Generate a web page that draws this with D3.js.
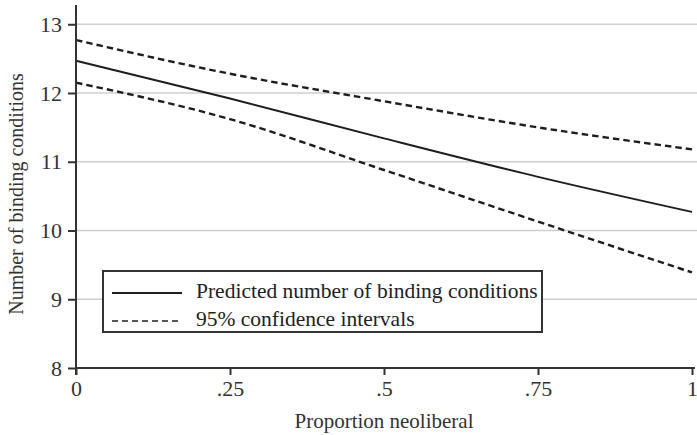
<!DOCTYPE html>
<html>
<head>
<meta charset="utf-8">
<script src="https://cdn.jsdelivr.net/npm/d3@7"></script>
<style>
  body { margin: 0; background: #fff; }
  svg { display: block; font-family: "Liberation Serif", "Times New Roman", serif; }
  .grid line { stroke: #cfcfcf; stroke-width: 1.6; }
  .axis path, .axis line { stroke: #333; stroke-width: 2; }
  .axis text { fill: #333; font-size: 22px; font-family: "Liberation Serif", serif; }
  .title { fill: #333; font-size: 20px; }
  .legend-text { fill: #222; font-size: 21.5px; }
</style>
</head>
<body>
<svg id="chart"></svg>
<script>
const WIDTH = 697;
const HEIGHT = 435;
const MARGIN = { top: 5, right: 5, bottom: 67, left: 76 };

// values, at each x position
const xValues = [0, 0.25, 0.5, 0.75, 1];
const predicted = [12.47, 11.92, 11.34, 10.78, 10.27];
const upperCI = [12.77, 12.28, 11.88, 11.5, 11.18];
const lowerCI = [12.15, 11.62, 10.88, 10.13, 9.39];

const xTicks = [0, 0.25, 0.5, 0.75, 1];
const xTickLabels = ["0", ".25", ".5", ".75", "1"];
const yTicks = [8, 9, 10, 11, 12, 13];
const legendLabels = ["Predicted number of binding conditions", "95% confidence intervals"];

const svg = d3.select("#chart").attr("width", WIDTH).attr("height", HEIGHT);

const x = d3.scaleLinear().domain([0, 1]).range([MARGIN.left, 692]);
const y = d3.scaleLinear().domain([8, 13.28]).range([368, MARGIN.top]);

// gridlines (not at the bottom tick)
svg.append("g").attr("class", "grid")
  .selectAll("line")
  .data(yTicks.filter(t => t > 8))
  .join("line")
  .attr("x1", MARGIN.left).attr("x2", WIDTH)
  .attr("y1", d => y(d)).attr("y2", d => y(d));

function series(vals) {
  return xValues.map((v, i) => ({ x: v, y: vals[i] }));
}

const line = d3.line()
  .x(d => x(d.x))
  .y(d => y(d.y))
  .curve(d3.curveMonotoneX);

const lines = svg.append("g").attr("fill", "none").attr("stroke", "#1e1e1e");
lines.append("path").attr("d", line(series(predicted))).attr("stroke-width", 2);
lines.append("path").attr("d", line(series(upperCI)))
  .attr("stroke-width", 2.4).attr("stroke-dasharray", "6.5 4");
lines.append("path").attr("d", line(series(lowerCI)))
  .attr("stroke-width", 2.4).attr("stroke-dasharray", "6.5 4");

// axes
const xAxis = d3.axisBottom(x)
  .tickValues(xTicks)
  .tickFormat((d, i) => xTickLabels[i])
  .tickSizeOuter(0)
  .tickSize(7)
  .tickPadding(5);

svg.append("g").attr("class", "axis")
  .attr("transform", `translate(0,${y(8)})`)
  .call(xAxis)
  .call(g => g.select(".domain").attr("d", `M${MARGIN.left},0H695`));

const yAxis = d3.axisLeft(y)
  .tickValues(yTicks)
  .tickFormat(d3.format("d"))
  .tickSizeOuter(0)
  .tickSize(8)
  .tickPadding(6);

svg.append("g").attr("class", "axis")
  .attr("transform", `translate(${MARGIN.left},0)`)
  .call(yAxis)
  .call(g => g.select(".domain").attr("d", `M0,${MARGIN.top}V${y(8) + 7}`));

// axis titles
svg.append("text").attr("class", "title")
  .attr("x", x(0.5)).attr("y", 428)
  .attr("text-anchor", "middle")
  .style("font-size", "21px")
  .text("Proportion neoliberal");

svg.append("text").attr("class", "title")
  .attr("transform", `translate(23,194) rotate(-90)`)
  .attr("text-anchor", "middle")
  .text("Number of binding conditions");

// legend
const legend = svg.append("g").attr("transform", "translate(103,271)");
legend.append("rect")
  .attr("width", 439).attr("height", 61)
  .attr("fill", "#fff").attr("stroke", "#333").attr("stroke-width", 2);

legendLabels.forEach((lbl, i) => {
  const ly = 22 + i * 28;
  legend.append("line")
    .attr("x1", 9).attr("x2", 79).attr("y1", ly).attr("y2", ly)
    .attr("stroke", "#1e1e1e")
    .attr("stroke-width", i === 0 ? 2 : 1.6)
    .attr("stroke-dasharray", i === 0 ? null : "6 4");
  legend.append("text").attr("class", "legend-text")
    .attr("x", 93).attr("y", ly + 5)
    .text(lbl);
});
</script>
</body>
</html>
